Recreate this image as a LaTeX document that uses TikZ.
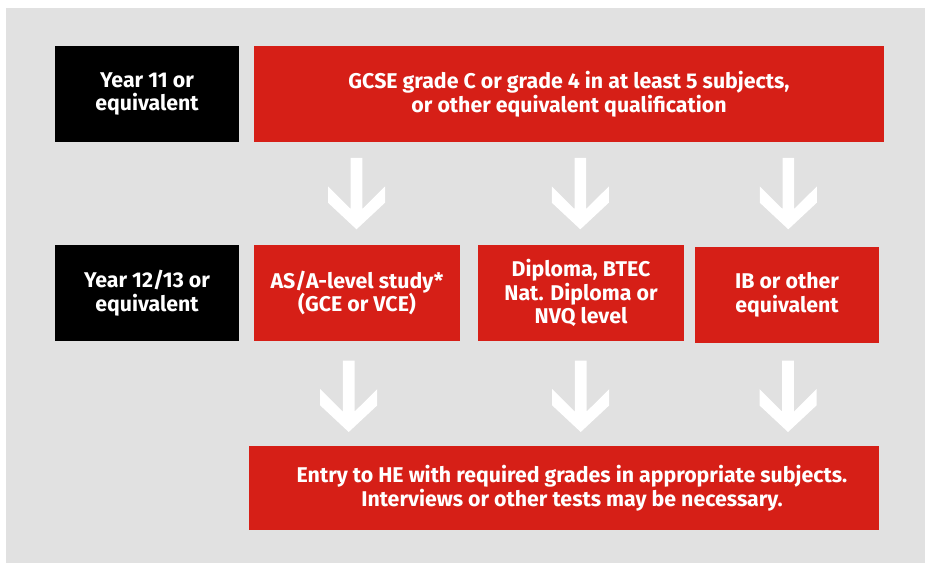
\documentclass[tikz,border=0pt]{standalone}
\usepackage{fontspec}
\setmainfont{Fira Sans}
\definecolor{bgrey}{RGB}{225,225,225}
\definecolor{pathred}{RGB}{214,31,23}
\tikzset{
  box/.style={inner sep=0pt, outer sep=0pt, align=center, text=white,
    font=\bfseries\fontsize{16}{17.8}\selectfont},
  blackbox/.style={box, fill=black, minimum width=138pt, minimum height=72pt},
  redbox/.style={box, fill=pathred, minimum height=72pt},
  downarr/.pic={
    \fill[white] (-5.8,0) -- (5.8,0) -- (5.8,51) -- (28.5,28.5) -- (28.5,44.7)
      -- (0,71.3) -- (-28.5,44.7) -- (-28.5,28.5) -- (-5.8,51) -- cycle;
  }
}
\begin{document}
\begin{tikzpicture}[x=0.75pt, y=-0.75pt]
  \useasboundingbox (0,0) rectangle (925,563);
  \fill[bgrey] (6,8) rectangle (925,563);
  % first row
  \node[blackbox] (y11) at (147,94) {Year 11 or\\equivalent};
  \node[redbox, minimum width=472.5pt] (gcse) at (569,94)
    {GCSE grade C or grade 4 in at least 5 subjects,\\or other equivalent qualification};
  % second row
  \node[blackbox] (y12) at (147,293) {Year 12/13 or\\equivalent};
  \node[redbox, minimum width=154.5pt] (alevel) at (357,293) {AS/A-level study*\\(GCE or VCE)};
  \node[redbox, minimum width=154.5pt] (diploma) at (581,293) {Diploma, BTEC\\Nat. Diploma or\\NVQ level};
  \node[redbox, minimum width=138pt] (ib) at (787,295) {IB or other\\equivalent};
  % last row
  \node[redbox, minimum width=472.5pt, minimum height=63pt] (entry) at (564,488) {};
  \node[box, xshift=6pt] (entrytxt) at (entry)
    {Entry to HE with required grades in appropriate subjects.\\Interviews or other tests may be necessary.};
  % arrows
  \foreach \x in {356.5,580.3,788.3}
    \pic at (\x,158) {downarr};
  \foreach \x in {348.7,580.7,788}
    \pic at (\x,360.7) {downarr};
\end{tikzpicture}
\end{document}
